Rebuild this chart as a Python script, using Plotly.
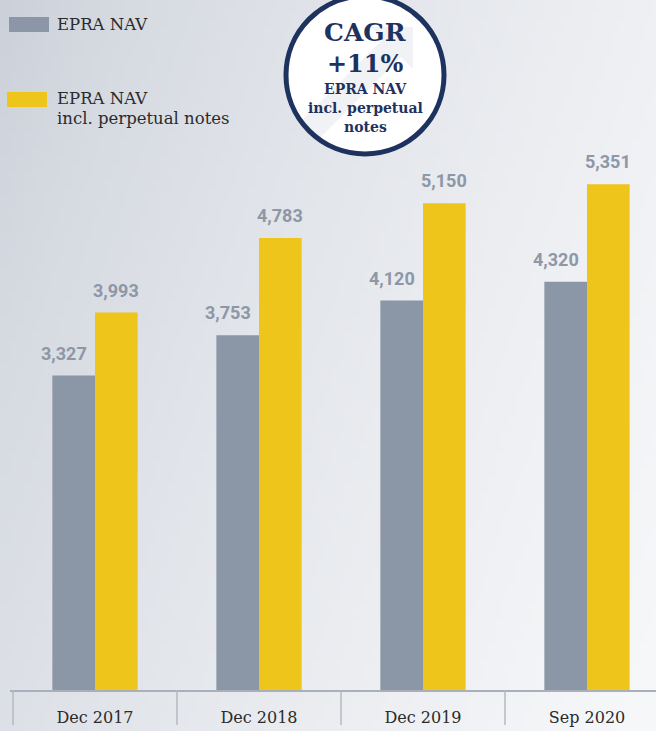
import base64
import struct
import zlib

import plotly.graph_objects as go

categories = ['Dec 2017', 'Dec 2018', 'Dec 2019', 'Sep 2020']
epra_nav = [3327, 3753, 4120, 4320]
epra_nav_incl_notes = [3993, 4783, 5150, 5351]
series_names = ['EPRA NAV', 'EPRA NAV<br>incl. perpetual notes']
cagr_lines = ['CAGR', '+11%', 'EPRA NAV', 'incl. perpetual', 'notes']

GREY = '#8b96a6'
YELLOW = '#eec51b'
NAVY = '#1e3260'
LABEL = '#8d97a7'
TEXT = '#2b2b2b'

W, H = 656, 731
ML, MB = 10, 41
PLOT_W, PLOT_H = W - ML, H - MB
CAT_PX = 164
FIRST_EDGE = 13  # pixel where the first category starts
BARGAP = 0.48


def px(x):
    # pixel -> paper x
    return (x - ML) / PLOT_W


def py(y):
    # pixel -> paper y
    return (PLOT_H - y) / PLOT_H


def gradient_png(w, h):
    """Small png used as the soft grey background."""
    dark = (203, 208, 217)
    light = (246, 247, 249)
    rows = bytearray()
    for j in range(h):
        rows.append(0)
        for i in range(w):
            t = 0.72 * i / (w - 1) + 0.28 * j / (h - 1)
            t = min(1.0, t * 1.05)
            t = t ** 0.7
            rows.extend(int(d + (l - d) * t) for d, l in zip(dark, light))

    def chunk(tag, data):
        return (struct.pack('>I', len(data)) + tag + data
                + struct.pack('>I', zlib.crc32(tag + data) & 0xffffffff))

    png = (b'\x89PNG\r\n\x1a\n'
           + chunk(b'IHDR', struct.pack('>IIBBBBB', w, h, 8, 2, 0, 0, 0))
           + chunk(b'IDAT', zlib.compress(bytes(rows)))
           + chunk(b'IEND', b''))
    return 'data:image/png;base64,' + base64.b64encode(png).decode()


fig = go.Figure()
fig.add_trace(go.Bar(x=categories, y=epra_nav, name=series_names[0],
                     marker=dict(color=GREY, line=dict(width=0))))
fig.add_trace(go.Bar(x=categories, y=epra_nav_incl_notes, name=series_names[1],
                     marker=dict(color=YELLOW, line=dict(width=0))))

# value labels above the bars (grey ones nudged left, off the yellow bar)
half = (1 - BARGAP) / 4
for i, cat in enumerate(categories):
    for val, off, nudge in ((epra_nav[i], -half, -10), (epra_nav_incl_notes[i], half, 0)):
        fig.add_annotation(x=i + off, y=val, xref='x', yref='y',
                           text=f'{val:,}', showarrow=False,
                           yanchor='bottom', yshift=10, xshift=nudge,
                           font=dict(family='Roboto', size=18, color=LABEL,
                                     weight='bold'))

shapes = []
# category dividers below the axis
for i in range(len(categories) + 1):
    shapes.append(dict(type='line', xref='x', yref='paper',
                       x0=i - 0.5, x1=i - 0.5, y0=0, y1=-35 / PLOT_H,
                       line=dict(color='#b3b9c3', width=1.5)))

# CAGR badge
cx, cy, r = 365, 75, 79
shapes.append(dict(type='circle', xref='paper', yref='paper',
                   x0=px(cx - r), x1=px(cx + r), y0=py(cy + r), y1=py(cy - r),
                   fillcolor='white', line=dict(width=0)))
arrow = [(413, 27), (413, 69), (401, 57), (318, 140), (300, 122), (383, 39), (371, 27)]
path = 'M ' + ' L '.join(f'{px(a)},{py(b)}' for a, b in arrow) + ' Z'
shapes.append(dict(type='path', xref='paper', yref='paper', path=path,
                   fillcolor='rgba(215,219,226,0.35)', line=dict(width=0)))
shapes.append(dict(type='circle', xref='paper', yref='paper',
                   x0=px(cx - r), x1=px(cx + r), y0=py(cy + r), y1=py(cy - r),
                   fillcolor='rgba(0,0,0,0)', line=dict(color=NAVY, width=5)))

# legend swatches
shapes.append(dict(type='rect', xref='paper', yref='paper',
                   x0=px(9), x1=px(49), y0=py(32), y1=py(17),
                   fillcolor=GREY, line=dict(width=0)))
shapes.append(dict(type='rect', xref='paper', yref='paper',
                   x0=px(7), x1=px(47), y0=py(107), y1=py(92),
                   fillcolor=YELLOW, line=dict(width=0)))

legend_font = dict(family='DejaVu Serif', size=16.5, color=TEXT)
for text, y in ((series_names[0], 24), ('EPRA NAV', 98), ('incl. perpetual notes', 119)):
    fig.add_annotation(x=px(55), y=py(y), xref='paper', yref='paper',
                       text=text, showarrow=False, xanchor='left',
                       yanchor='middle', font=legend_font)

badge_sizes = [25, 24, 14, 14, 14]
badge_y = [33, 64, 89, 108, 127]
for text, size, y in zip(cagr_lines, badge_sizes, badge_y):
    fig.add_annotation(x=px(cx), y=py(y), xref='paper', yref='paper',
                       text=f'<b>{text}</b>', showarrow=False,
                       xanchor='center', yanchor='middle',
                       font=dict(family='DejaVu Serif', size=size, color=NAVY))

fig.add_layout_image(dict(source=gradient_png(96, 96), xref='paper', yref='paper',
                          x=px(0), y=py(0), sizex=W / PLOT_W, sizey=H / PLOT_H,
                          sizing='stretch', xanchor='left', yanchor='top',
                          layer='below'))

x_start = -0.5 - (FIRST_EDGE - ML) / CAT_PX
fig.update_layout(
    width=W, height=H,
    margin=dict(l=ML, r=0, t=0, b=MB, autoexpand=False),
    barmode='group', bargap=BARGAP, bargroupgap=0,
    showlegend=False,
    paper_bgcolor='#e6e8ec', plot_bgcolor='rgba(0,0,0,0)',
    shapes=shapes,
    xaxis=dict(type='category', range=[x_start, x_start + PLOT_W / CAT_PX],
               showgrid=False, zeroline=False, fixedrange=True,
               showline=True, linecolor='#a9b0bb', linewidth=1.5,
               ticks='outside', ticklen=12, tickcolor='rgba(0,0,0,0)',
               tickfont=dict(family='DejaVu Serif', size=16, color=TEXT)),
    yaxis=dict(range=[0, 7300], visible=False, showgrid=False,
               zeroline=False, fixedrange=True),
)

# the page has a default 8px body margin; drop it so the chart fills the window
fig.write_html('out.html', config={'displayModeBar': False},
               post_script="document.body.style.margin='0';")
